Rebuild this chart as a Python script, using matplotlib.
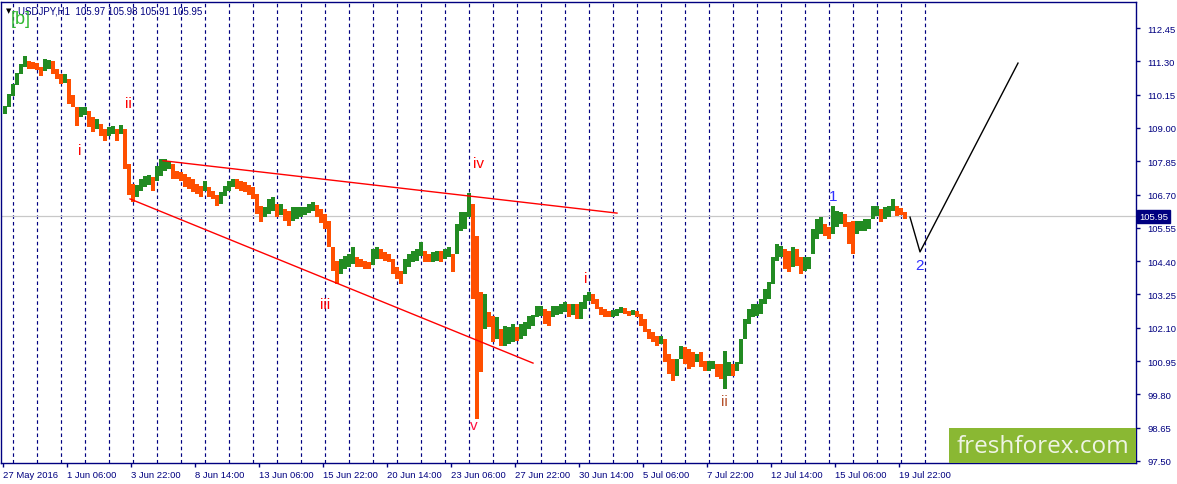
import matplotlib
matplotlib.use('Agg')
import matplotlib.pyplot as plt
from matplotlib.patches import Rectangle

plt.rcParams['font.family'] = ['Liberation Sans', 'DejaVu Sans']

# ---------------- data ----------------
title_text = "USDJPY,H1  105.97 105.98 105.91 105.95"
last_price = 105.95
bar_hours = 4  # each drawn bar aggregates 4 hourly bars

highs = [
    109.76, 110.17, 110.52, 110.89, 111.21, 111.48, 111.31, 111.27, 111.24, 111.10,
    111.38, 111.34, 111.31, 111.03, 110.86, 110.86, 110.69, 110.14, 109.72, 109.72,
    109.72, 109.58, 109.38, 109.31, 109.14, 108.96, 109.03, 109.07, 108.96, 109.10,
    108.96, 107.75, 107.06, 107.03, 107.24, 107.34, 107.37, 107.30, 107.68, 107.93,
    107.93, 107.86, 107.75, 107.51, 107.48, 107.41, 107.30, 107.24, 107.06, 106.99,
    107.17, 106.96, 106.82, 106.68, 106.79, 106.99, 107.17, 107.24, 107.24, 107.17,
    107.13, 107.03, 106.96, 106.72, 106.30, 106.27, 106.55, 106.61, 106.37, 106.37,
    106.20, 106.13, 106.27, 106.27, 106.27, 106.27, 106.37, 106.44, 106.34, 106.20,
    106.03, 105.79, 104.89, 104.40, 104.47, 104.58, 104.65, 104.89, 104.54, 104.47,
    104.40, 104.37, 104.82, 104.89, 104.82, 104.71, 104.65, 104.47, 104.20, 104.06,
    104.47, 104.65, 104.75, 104.82, 105.06, 104.75, 104.65, 104.71, 104.75, 104.75,
    104.82, 104.89, 104.65, 105.68, 106.10, 106.10, 106.75, 106.37, 105.27, 103.33,
    103.27, 102.64, 102.51, 102.47, 102.06, 102.16, 102.13, 102.23, 102.13, 102.23,
    102.30, 102.51, 102.54, 102.85, 102.85, 102.75, 102.68, 102.85, 102.85, 102.92,
    102.99, 102.92, 102.92, 102.92, 102.99, 103.23, 103.33, 103.27, 103.09, 102.82,
    102.75, 102.68, 102.71, 102.75, 102.82, 102.78, 102.68, 102.71, 102.68, 102.58,
    102.40, 102.06, 101.95, 101.81, 101.81, 101.71, 101.19, 101.02, 101.02, 101.47,
    101.43, 101.37, 101.26, 101.19, 101.26, 100.95, 100.95, 100.95, 100.85, 100.85,
    101.30, 100.92, 100.85, 100.92, 101.71, 102.40, 102.75, 102.92, 102.92, 103.09,
    103.44, 103.68, 104.54, 104.99, 104.92, 104.82, 104.75, 104.89, 104.82, 104.54,
    104.54, 104.54, 105.51, 105.86, 105.92, 105.68, 105.58, 106.30, 106.13, 106.10,
    106.03, 105.75, 105.79, 105.79, 105.79, 105.86, 105.86, 106.30, 106.30, 106.20,
    106.27, 106.30, 106.55, 106.30, 106.23, 106.10,
]
lows = [
    109.48, 109.72, 110.10, 110.48, 110.86, 111.10, 111.03, 111.03, 111.00, 110.79,
    110.96, 111.03, 110.86, 110.69, 110.52, 110.55, 109.83, 109.72, 109.07, 109.38,
    109.45, 109.03, 108.86, 108.96, 108.72, 108.55, 108.72, 108.79, 108.55, 108.79,
    107.58, 106.68, 106.44, 106.61, 106.82, 106.96, 107.03, 106.82, 107.17, 107.34,
    107.51, 107.58, 107.24, 107.24, 107.17, 106.96, 106.89, 106.79, 106.72, 106.61,
    106.82, 106.61, 106.55, 106.30, 106.37, 106.65, 106.82, 106.96, 106.89, 106.82,
    106.79, 106.68, 106.55, 106.03, 105.75, 105.92, 106.03, 106.13, 105.92, 105.99,
    105.79, 105.61, 105.79, 105.86, 105.92, 105.99, 106.06, 106.13, 105.92, 105.72,
    105.51, 104.89, 104.06, 103.61, 103.96, 104.13, 104.20, 104.30, 104.20, 104.20,
    104.13, 104.13, 104.27, 104.47, 104.47, 104.40, 104.37, 103.96, 103.78, 103.61,
    103.96, 104.20, 104.37, 104.40, 104.58, 104.37, 104.37, 104.37, 104.40, 104.37,
    104.47, 104.54, 104.02, 104.65, 105.44, 105.51, 105.92, 103.09, 98.95, 100.57,
    102.06, 102.13, 101.61, 101.71, 101.47, 101.47, 101.54, 101.61, 101.64, 101.71,
    101.81, 102.06, 102.16, 102.47, 102.51, 102.23, 102.16, 102.47, 102.54, 102.58,
    102.64, 102.47, 102.54, 102.40, 102.40, 102.75, 103.02, 102.92, 102.75, 102.54,
    102.47, 102.47, 102.47, 102.51, 102.61, 102.58, 102.51, 102.54, 102.47, 102.16,
    101.95, 101.71, 101.61, 101.47, 101.54, 100.92, 100.50, 100.26, 100.43, 101.02,
    100.85, 100.68, 100.74, 100.92, 100.74, 100.61, 100.61, 100.68, 100.40, 100.33,
    99.99, 100.43, 100.43, 100.61, 100.85, 101.71, 102.23, 102.47, 102.51, 102.58,
    102.92, 103.09, 103.61, 104.40, 104.54, 104.13, 104.02, 104.20, 104.23, 103.96,
    104.06, 104.13, 104.65, 105.17, 105.34, 105.27, 105.17, 105.34, 105.58, 105.68,
    105.58, 104.99, 104.65, 105.34, 105.44, 105.44, 105.51, 105.86, 105.96, 105.75,
    105.86, 105.92, 106.13, 105.96, 105.99, 105.86,
]

date_labels = ["27 May 2016", "1 Jun 06:00", "3 Jun 22:00", "8 Jun 14:00",
               "13 Jun 06:00", "15 Jun 22:00", "20 Jun 14:00", "23 Jun 06:00",
               "27 Jun 22:00", "30 Jun 14:00", "5 Jul 06:00", "7 Jul 22:00",
               "12 Jul 14:00", "15 Jul 06:00", "19 Jul 22:00"]
label_every_hours = 64
price_ticks = [97.50, 98.65, 99.80, 100.95, 102.10, 103.25, 104.40, 105.55,
               106.70, 107.85, 109.00, 110.15, 111.30, 112.45]
first_day_start = 10      # hour index of first day separator
day_hours = 24
n_separators = 39

# wedge lines (hour index, price)
upper_line_h = [160, 614]
upper_line_p = [107.87, 106.06]
lower_line_h = [127, 530]
lower_line_p = [106.55, 100.88]
# forecast path
path_h = [907, 917, 1015]
path_p = [105.92, 104.72, 111.24]

wave_text = ["i", "ii", "iii", "iv", "v", "i", "ii", "1", "2"]
wave_h = [77, 125, 322, 475, 471, 583, 721, 830, 917]
wave_p = [108.10, 109.72, 102.78, 107.65, 98.60, 103.68, 99.43, 106.51, 104.13]
wave_col = ["#ff0000", "#ff0000", "#ff0000", "#ff0000", "#ff1040", "#ff0000",
            "#b5502a", "#3030ff", "#3030ff"]

# ---------------- figure ----------------
W, H = 1177, 485
fig = plt.figure(figsize=(W / 100, H / 100), dpi=100)
fig.patch.set_facecolor('white')
ax = fig.add_axes([1 / W, (H - 464) / H, 1135 / W, 461 / H])
ax.set_facecolor('white')
NAVY = '#000080'

ax.set_xlim(-2, 1133)
ax.set_ylim(97.43, 113.35)

# day separators
for k in range(n_separators):
    ax.axvline(first_day_start + k * day_hours, color=NAVY, lw=0.85,
               linestyle=(0, (3.0, 2.6)), zorder=1)

# current price line
ax.axhline(last_price, color='#c8c8c8', lw=0.9, zorder=1.5)

# bars
xs = [bar_hours * i + bar_hours / 2 for i in range(len(highs))]
mids = [(h + l) / 2 for h, l in zip(highs, lows)]
cols = []
for i, m in enumerate(mids):
    prev = mids[i - 1] if i > 0 else m
    cols.append('#228b22' if m >= prev else '#ff4f00')
ax.bar(xs, [h - l for h, l in zip(highs, lows)], bottom=lows, width=3.3,
       color=cols, linewidth=0, zorder=3)

# wedge and forecast lines
ax.plot(upper_line_h, upper_line_p, color='#ff0000', lw=1.0, zorder=4)
ax.plot(lower_line_h, lower_line_p, color='#ff0000', lw=1.0, zorder=4)
ax.plot(path_h, path_p, color='black', lw=1.0, zorder=4)

for t, h, p, c in zip(wave_text, wave_h, wave_p, wave_col):
    ax.text(h, p, t, color=c, fontsize=11, ha='center', va='baseline', zorder=5)

# axes styling
for s in ax.spines.values():
    s.set_color(NAVY)
    s.set_linewidth(1.0)

ax.set_yticks(price_ticks)
ax.set_yticklabels([f"{v:.2f}" for v in price_ticks])
ax.yaxis.tick_right()
ax.tick_params(axis='y', direction='out', length=3, width=1, pad=5,
               colors=NAVY, labelsize=6.8, left=False, right=True)

ax.set_xticks([i * label_every_hours for i in range(len(date_labels))])
ax.set_xticklabels(date_labels)
ax.tick_params(axis='x', direction='out', length=3, width=1, pad=2,
               colors=NAVY, labelsize=6.8)
for lbl in ax.get_xticklabels():
    lbl.set_horizontalalignment('left')

# current price box on axis
ax.text(1.0025, last_price, f"{last_price:.2f}", transform=ax.get_yaxis_transform(),
        color='white', fontsize=6.8, ha='left', va='center', zorder=6,
        bbox=dict(boxstyle='square,pad=0.2', fc=NAVY, ec=NAVY), clip_on=False)

# header
fig.text(6 / W, 1 - 11 / H, "\u25BC", color='black', fontsize=5,
         family=['DejaVu Sans'], ha='left', va='center')
fig.text(18 / W, 1 - 11 / H, title_text, color=NAVY, fontsize=7,
         ha='left', va='center')
fig.text(11 / W, 1 - 19 / H, "[b]", color='#30b830', fontsize=13,
         ha='left', va='center')

# watermark
ax.add_patch(Rectangle((949 / W, (H - 464) / H), 187 / W, 35 / H,
                       transform=fig.transFigure, facecolor='#8ab833',
                       edgecolor='none', zorder=7, clip_on=False))
fig.text(1043 / W, 1 - 447 / H, "freshforex.com", color='#eef4e4',
         fontsize=17.5, family=['Open Sans', 'DejaVu Sans'],
         ha='center', va='center', zorder=8)

fig.savefig('out.png', dpi=100)
